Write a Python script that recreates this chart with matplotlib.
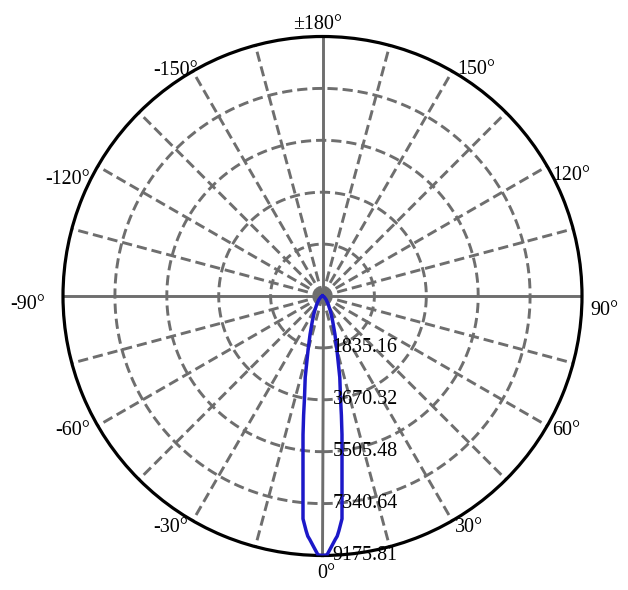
import numpy as np
import matplotlib
matplotlib.use("Agg")
import matplotlib.pyplot as plt

# ---- data ----
r_ticks = [1835.16, 3670.32, 5505.48, 7340.64, 9175.81]
r_tick_labels = ["1835.16", "3670.32", "5505.48", "7340.64", "9175.81"]
theta_label_angles = [-150, -120, -90, -60, -30, 0, 30, 60, 90, 120, 150, 180]
theta_labels = ["-150°", "-120°", "-90°", "-60°", "-30°", "0°",
                "30°", "60°", "90°", "120°", "150°", "±180°"]
grid_angles = list(range(0, 360, 15))
solid_angles = [0, 90, 180, 270]

# half-profile of the luminous intensity (symmetric beam)
beam_angles = [0, 1, 2, 3, 3.5, 4, 5, 6, 7, 8, 9, 10, 12, 15, 18, 22, 27, 35, 45, 60, 90]
beam_values = [9175.81, 9155, 8880, 8620, 8510, 8320, 7910, 6600, 5660, 4950, 4270,
               3670, 2940, 1970, 1420, 960, 640, 350, 180, 70, 0]

rmax = r_ticks[-1]
grey = "#6e6e6e"
blue = "#1c18c8"
font = ["Liberation Serif", "DejaVu Serif"]
fs = 14.4

# label placement (pixel offsets from the rim point, alignment)
label_style = {
    -150: (5, 0.5, "right", "center"),
    -120: (-8, -13.5, "right", "center"),
    -90: (-18, -8.5, "right", "center"),
    -60: (-8, -4.5, "right", "center"),
    -30: (-5, -6.5, "right", "center"),
    0: (4, -8.5, "center", "top"),
    30: (3, -6.5, "left", "center"),
    60: (5, -4.5, "left", "center"),
    90: (8, -14.5, "left", "center"),
    120: (5, -9.5, "left", "center"),
    150: (5, 1.5, "left", "center"),
    180: (-4.5, 2.3, "center", "bottom"),
}

fig = plt.figure(figsize=(6.28, 5.90), dpi=100)
ax = fig.add_axes([63 / 628, (590 - 555.5) / 590, 519 / 628, 519 / 590], projection="polar")
ax.set_theta_zero_location("S")
ax.set_theta_direction(1)
ax.set_rlim(0, rmax)
ax.grid(False)
ax.set_xticks([])
ax.set_yticks([])
ax.spines["polar"].set_color("black")
ax.spines["polar"].set_linewidth(2.3)

dash = (0, (3.5, 1.7))
# radial spokes
for a in grid_angles:
    t = np.deg2rad(a)
    ls = "-" if a in solid_angles else dash
    ax.plot([t, t], [0, rmax], color=grey, lw=2.1, linestyle=ls, zorder=1,
            solid_capstyle="butt")
# dashed circles
tt = np.linspace(0, 2 * np.pi, 721)
for rv in r_ticks[:-1]:
    ax.plot(tt, np.full_like(tt, rv), color=grey, lw=2.1, linestyle=dash, zorder=1)

# beam curve
ang = np.array(beam_angles, dtype=float)
val = np.array(beam_values, dtype=float)
full_ang = np.concatenate([-ang[::-1], ang[1:]])
full_val = np.concatenate([val[::-1], val[1:]])
ax.plot(np.deg2rad(full_ang), full_val, color=blue, lw=2.5, zorder=3)

# radial labels
for rv, lab in zip(r_ticks, r_tick_labels):
    ax.annotate(lab, xy=(0, rv), xytext=(10, 0), textcoords="offset pixels",
                ha="left", va="center", fontsize=fs, family=font, zorder=4)

# angular labels
for a, lab in zip(theta_label_angles, theta_labels):
    t = np.deg2rad(a)
    dx, dy, ha, va = label_style[a]
    ax.annotate(lab, xy=(t, rmax), xytext=(dx, dy), textcoords="offset pixels",
                ha=ha, va=va, fontsize=fs, family=font)

fig.savefig("out.png", dpi=100)
